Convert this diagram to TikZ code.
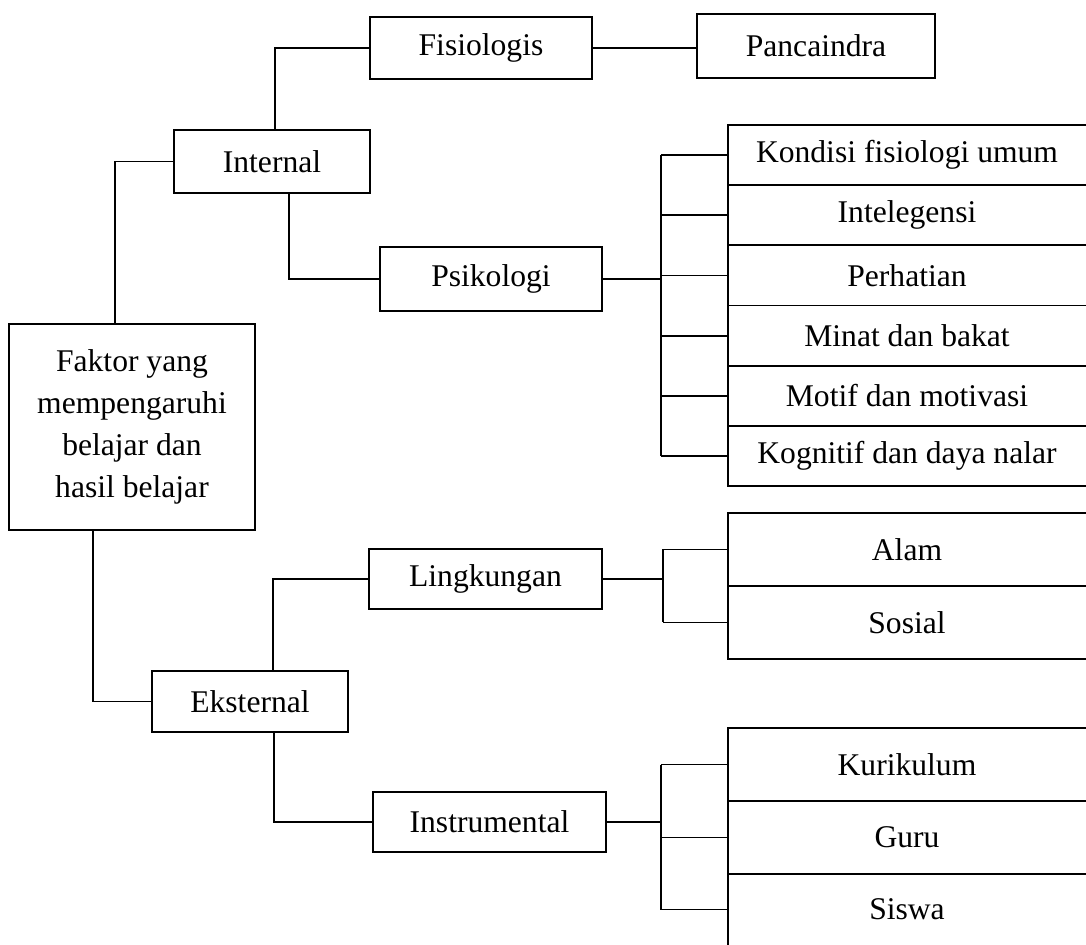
\documentclass[tikz,border=0pt]{standalone}
\usepackage{fontspec}
\setmainfont{Liberation Serif}
\usetikzlibrary{positioning}

\begin{document}
\begin{tikzpicture}[x=0.5pt,y=-0.5pt,line width=0.9pt,font=\fontsize{15.8}{21}\selectfont,
	boxnode/.style={draw,inner sep=0pt,align=center},
	cellnode/.style={inner sep=0pt,outer sep=0pt,minimum width=179pt}]
	\useasboundingbox (0,0) rectangle (1086,945);
	\node[boxnode,minimum width=123pt,minimum height=103pt](root) at (132,427){Faktor yang\\mempengaruhi\\belajar dan\\hasil belajar};
	\node[boxnode,minimum width=98pt,minimum height=31.5pt](internal) at (272,161.5){Internal};
	\node[boxnode,minimum width=111pt,minimum height=31pt](fisiologis) at (481,48){Fisiologis};
	\node[boxnode,minimum width=119pt,minimum height=32pt](pancaindra) at (816,46){Pancaindra};
	\node[boxnode,minimum width=111pt,minimum height=32pt](psikologi) at (491,279){Psikologi};
	\node[boxnode,minimum width=98pt,minimum height=30.5pt](eksternal) at (250,701.5){Eksternal};
	\node[boxnode,minimum width=116.5pt,minimum height=30pt](lingkungan) at (485.5,579){Lingkungan};
	\node[boxnode,minimum width=116.5pt,minimum height=30pt](instrumental) at (489.5,822){Instrumental};

	\node[cellnode,minimum height=30.1pt,anchor=north west](kondisi) at (728,125){Kondisi fisiologi umum};
	\node[cellnode,minimum height=30.1pt,below=0pt of kondisi](intelegensi){Intelegensi};
	\node[cellnode,minimum height=30.1pt,below=0pt of intelegensi](perhatian){Perhatian};
	\node[cellnode,minimum height=30.1pt,below=0pt of perhatian](minat){Minat dan bakat};
	\node[cellnode,minimum height=30.1pt,below=0pt of minat](motif){Motif dan motivasi};
	\node[cellnode,minimum height=30.1pt,below=0pt of motif](kognitif){Kognitif dan daya nalar};
	\node[cellnode,minimum height=36.5pt,anchor=north west](alam) at (728,513){Alam};
	\node[cellnode,minimum height=36.5pt,below=0pt of alam](sosial){Sosial};
	\node[cellnode,minimum height=36.5pt,anchor=north west](kurikulum) at (728,728){Kurikulum};
	\node[cellnode,minimum height=36.5pt,below=0pt of kurikulum](guru){Guru};
	\node[cellnode,minimum height=35.5pt,below=0pt of guru](siswa){Siswa};

	\draw (kondisi.north east) -- (kondisi.north west) -- (kognitif.south west) -- (kognitif.south east);
	\foreach \n in {kondisi,intelegensi,perhatian,minat,motif}
		\draw (\n.south west) -- (\n.south east);
	\draw (alam.north east) -- (alam.north west) -- (sosial.south west) -- (sosial.south east);
	\draw (alam.south west) -- (alam.south east);
	\draw (kurikulum.north east) -- (kurikulum.north west) -- (siswa.south west);
	\draw (kurikulum.south west) -- (kurikulum.south east);
	\draw (guru.south west) -- (guru.south east);

	\coordinate (psibar) at (661,279);
	\coordinate (lingbar) at (663,579);
	\coordinate (instbar) at (661,822);

	\draw ([xshift=-8.5pt]root.north) |- (internal.west);
	\draw ([xshift=1.5pt]internal.north) |- (fisiologis.west);
	\draw (fisiologis.east) -- (fisiologis.east -| pancaindra.west);
	\draw ([xshift=8.5pt]internal.south) |- (psikologi.west);
	\draw (psikologi.east) -- (psibar);
	\draw (psibar |- kondisi.west) -- (psibar |- kognitif.west);
	\foreach \n in {kondisi,intelegensi,perhatian,minat,motif,kognitif}
		\draw (psibar |- \n.west) -- (\n.west);

	\draw ([xshift=-19.5pt]root.south) |- (eksternal.west);
	\draw ([xshift=11.5pt]eksternal.north) |- (lingkungan.west);
	\draw (lingkungan.east) -- (lingbar);
	\draw (lingbar |- alam.west) -- (lingbar |- sosial.west);
	\foreach \n in {alam,sosial}
		\draw (lingbar |- \n.west) -- (\n.west);

	\draw ([xshift=12pt]eksternal.south) |- (instrumental.west);
	\draw (instrumental.east) -- (instbar);
	\draw (instbar |- kurikulum.west) -- (instbar |- siswa.west);
	\foreach \n in {kurikulum,guru,siswa}
		\draw (instbar |- \n.west) -- (\n.west);
\end{tikzpicture}
\end{document}
